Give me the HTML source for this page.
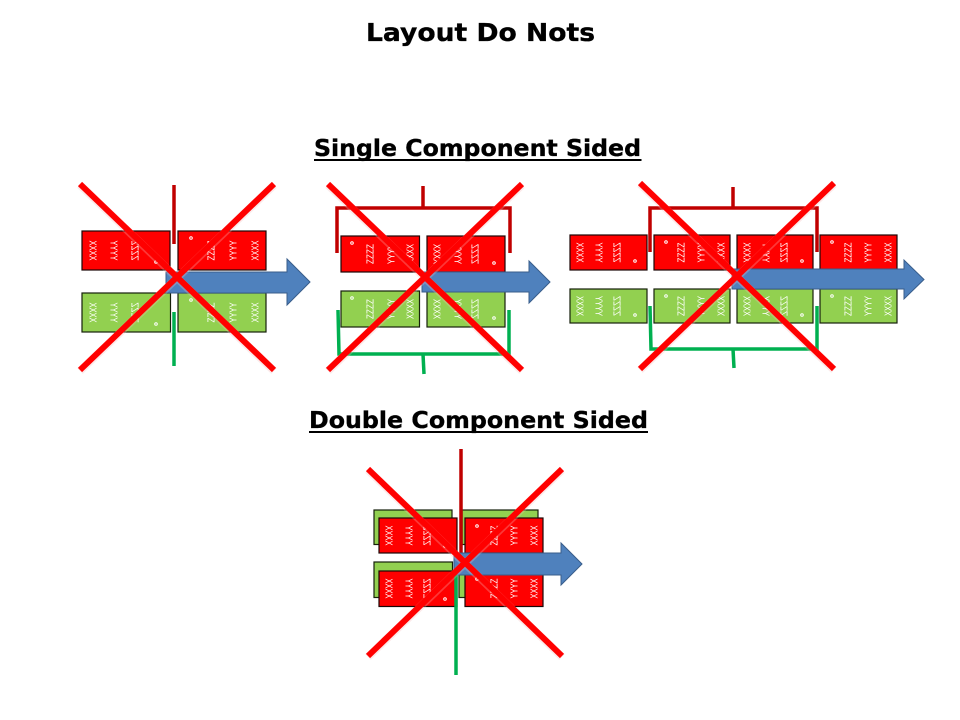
<!DOCTYPE html>
<html lang="en">
<head>
<meta charset="utf-8">
<title>Layout Do Nots</title>
<style>
html,body{margin:0;padding:0;background:#fff;width:960px;height:720px;overflow:hidden}
svg{display:block}
.h{font-family:"DejaVu Sans","Liberation Sans",sans-serif;font-weight:bold;fill:#000;stroke:#000;stroke-width:.35}
.t{font-family:"Liberation Sans",sans-serif;font-size:10px;fill:#fff;text-anchor:middle;dominant-baseline:central}
.r{fill:#f00;stroke:#1c0606;stroke-width:1.200}
.g{fill:#92d050;stroke:#16200a;stroke-width:1.200}
.a{fill:#4f81bd;stroke:#385d8a;stroke-width:1}
.c{fill:none;stroke:#f00;stroke-width:6}
.cs{fill:none;stroke:#f6b8b8;stroke-width:8;opacity:.3}
.o{fill:none;stroke:#fff;stroke-width:1}
.lr{fill:none;stroke:#c00000;stroke-width:3.500}
.lg{fill:none;stroke:#00b050;stroke-width:3.500}
</style>
</head>
<body>
<svg width="960" height="720" viewBox="0 0 960 720" xmlns="http://www.w3.org/2000/svg">
<text class="h" x="366" y="41" font-size="25" textLength="229" lengthAdjust="spacingAndGlyphs">Layout Do Nots</text>
<text class="h" x="314" y="156" font-size="23" textLength="327" lengthAdjust="spacingAndGlyphs">Single Component Sided</text>
<rect x="314" y="159" width="327.500" height="2" fill="#000"/>
<text class="h" x="309" y="428" font-size="23" textLength="339" lengthAdjust="spacingAndGlyphs">Double Component Sided</text>
<rect x="309" y="431" width="339" height="2" fill="#000"/>

<!-- Group 1 -->
<g transform="translate(82,231)"><rect class="r" width="88" height="39"/><text class="t" textLength="20" lengthAdjust="spacingAndGlyphs" transform="translate(10,19.500) rotate(90)">XXXX</text><text class="t" textLength="20" lengthAdjust="spacingAndGlyphs" transform="translate(31,19.500) rotate(90)">YYYY</text><text class="t" textLength="20" lengthAdjust="spacingAndGlyphs" transform="translate(54,19.500) rotate(90) scale(1,-1)">ZZZZ</text><circle class="o" cx="74" cy="31" r="1.300"/></g>
<g transform="translate(178,231)"><rect class="r" width="88" height="39"/><circle class="o" cx="13" cy="7" r="1.300"/><text class="t" textLength="20" lengthAdjust="spacingAndGlyphs" transform="translate(34,19.500) rotate(-90)">ZZZZ</text><text class="t" textLength="20" lengthAdjust="spacingAndGlyphs" transform="translate(56,19.500) rotate(-90)">YYYY</text><text class="t" textLength="20" lengthAdjust="spacingAndGlyphs" transform="translate(78,19.500) rotate(-90)">XXXX</text></g>
<g transform="translate(82,293)"><rect class="g" width="88.500" height="39"/><text class="t" textLength="20" lengthAdjust="spacingAndGlyphs" transform="translate(10,19.500) rotate(90)">XXXX</text><text class="t" textLength="20" lengthAdjust="spacingAndGlyphs" transform="translate(31,19.500) rotate(90)">YYYY</text><text class="t" textLength="20" lengthAdjust="spacingAndGlyphs" transform="translate(54,19.500) rotate(90) scale(1,-1)">ZZZZ</text><circle class="o" cx="74" cy="31" r="1.300"/></g>
<g transform="translate(178,293)"><rect class="g" width="88" height="39"/><circle class="o" cx="13" cy="7" r="1.300"/><text class="t" textLength="20" lengthAdjust="spacingAndGlyphs" transform="translate(34,19.500) rotate(-90)">ZZZZ</text><text class="t" textLength="20" lengthAdjust="spacingAndGlyphs" transform="translate(56,19.500) rotate(-90)">YYYY</text><text class="t" textLength="20" lengthAdjust="spacingAndGlyphs" transform="translate(78,19.500) rotate(-90)">XXXX</text></g>
<path class="a" d="M166 272H287V259L310 282L287 305V293H166Z"/>
<path class="lr" d="M174 185V244"/>
<path class="lg" d="M174 312V366"/>
<path class="cs" d="M80 185L274 371M274 185L80 371"/>
<path class="c" d="M80 184L274 370M274 184L80 370"/>

<!-- Group 2 -->
<g transform="translate(341,236)"><rect class="r" width="78.500" height="36"/><circle class="o" cx="11" cy="7" r="1.300"/><text class="t" textLength="20" lengthAdjust="spacingAndGlyphs" transform="translate(30,18) rotate(-90)">ZZZZ</text><text class="t" textLength="20" lengthAdjust="spacingAndGlyphs" transform="translate(51,18) rotate(-90)">YYYY</text><text class="t" textLength="20" lengthAdjust="spacingAndGlyphs" transform="translate(70,18) rotate(-90)">XXXX</text></g>
<g transform="translate(427,236)"><rect class="r" width="78" height="36"/><text class="t" textLength="20" lengthAdjust="spacingAndGlyphs" transform="translate(9,18) rotate(90)">XXXX</text><text class="t" textLength="20" lengthAdjust="spacingAndGlyphs" transform="translate(30,18) rotate(90)">YYYY</text><text class="t" textLength="20" lengthAdjust="spacingAndGlyphs" transform="translate(49,18) rotate(90) scale(1,-1)">ZZZZ</text><circle class="o" cx="67" cy="27" r="1.300"/></g>
<g transform="translate(341,291)"><rect class="g" width="78.500" height="36"/><circle class="o" cx="11" cy="7" r="1.300"/><text class="t" textLength="20" lengthAdjust="spacingAndGlyphs" transform="translate(30,18) rotate(-90)">ZZZZ</text><text class="t" textLength="20" lengthAdjust="spacingAndGlyphs" transform="translate(51,18) rotate(-90)">YYYY</text><text class="t" textLength="20" lengthAdjust="spacingAndGlyphs" transform="translate(70,18) rotate(-90)">XXXX</text></g>
<g transform="translate(427,291)"><rect class="g" width="78" height="36"/><text class="t" textLength="20" lengthAdjust="spacingAndGlyphs" transform="translate(9,18) rotate(90)">XXXX</text><text class="t" textLength="20" lengthAdjust="spacingAndGlyphs" transform="translate(30,18) rotate(90)">YYYY</text><text class="t" textLength="20" lengthAdjust="spacingAndGlyphs" transform="translate(49,18) rotate(90) scale(1,-1)">ZZZZ</text><circle class="o" cx="67" cy="27" r="1.300"/></g>
<path class="a" d="M422 272H529V261L550 282L529 303V292H422Z"/>
<path class="lr" d="M337 253V208H510V253M423 186V208"/>
<path class="lg" d="M338 310L339 354H509V310M423 354L424 374"/>
<path class="cs" d="M328 185L522 371M522 185L328 371"/>
<path class="c" d="M328 184L522 370M522 184L328 370"/>

<!-- Group 3 -->
<g transform="translate(570,235)"><rect class="r" width="77" height="35"/><text class="t" textLength="20" lengthAdjust="spacingAndGlyphs" transform="translate(9,17.500) rotate(90)">XXXX</text><text class="t" textLength="20" lengthAdjust="spacingAndGlyphs" transform="translate(28,17.500) rotate(90)">YYYY</text><text class="t" textLength="20" lengthAdjust="spacingAndGlyphs" transform="translate(48,17.500) rotate(90) scale(1,-1)">ZZZZ</text><circle class="o" cx="65" cy="26" r="1.300"/></g>
<g transform="translate(654,235)"><rect class="r" width="76" height="35"/><circle class="o" cx="12" cy="7" r="1.300"/><text class="t" textLength="20" lengthAdjust="spacingAndGlyphs" transform="translate(28,17.500) rotate(-90)">ZZZZ</text><text class="t" textLength="20" lengthAdjust="spacingAndGlyphs" transform="translate(48,17.500) rotate(-90)">YYYY</text><text class="t" textLength="20" lengthAdjust="spacingAndGlyphs" transform="translate(68,17.500) rotate(-90)">XXXX</text></g>
<g transform="translate(737,235)"><rect class="r" width="76" height="35"/><text class="t" textLength="20" lengthAdjust="spacingAndGlyphs" transform="translate(9,17.500) rotate(90)">XXXX</text><text class="t" textLength="20" lengthAdjust="spacingAndGlyphs" transform="translate(28,17.500) rotate(90)">YYYY</text><text class="t" textLength="20" lengthAdjust="spacingAndGlyphs" transform="translate(48,17.500) rotate(90) scale(1,-1)">ZZZZ</text><circle class="o" cx="65" cy="26" r="1.300"/></g>
<g transform="translate(820,235)"><rect class="r" width="77" height="35"/><circle class="o" cx="12" cy="7" r="1.300"/><text class="t" textLength="20" lengthAdjust="spacingAndGlyphs" transform="translate(29,17.500) rotate(-90)">ZZZZ</text><text class="t" textLength="20" lengthAdjust="spacingAndGlyphs" transform="translate(49,17.500) rotate(-90)">YYYY</text><text class="t" textLength="20" lengthAdjust="spacingAndGlyphs" transform="translate(69,17.500) rotate(-90)">XXXX</text></g>
<g transform="translate(570,289)"><rect class="g" width="77" height="34"/><text class="t" textLength="20" lengthAdjust="spacingAndGlyphs" transform="translate(9,17) rotate(90)">XXXX</text><text class="t" textLength="20" lengthAdjust="spacingAndGlyphs" transform="translate(28,17) rotate(90)">YYYY</text><text class="t" textLength="20" lengthAdjust="spacingAndGlyphs" transform="translate(48,17) rotate(90) scale(1,-1)">ZZZZ</text><circle class="o" cx="65" cy="26" r="1.300"/></g>
<g transform="translate(654,289)"><rect class="g" width="76" height="34"/><circle class="o" cx="12" cy="7" r="1.300"/><text class="t" textLength="20" lengthAdjust="spacingAndGlyphs" transform="translate(28,17) rotate(-90)">ZZZZ</text><text class="t" textLength="20" lengthAdjust="spacingAndGlyphs" transform="translate(48,17) rotate(-90)">YYYY</text><text class="t" textLength="20" lengthAdjust="spacingAndGlyphs" transform="translate(68,17) rotate(-90)">XXXX</text></g>
<g transform="translate(737,289)"><rect class="g" width="76" height="34"/><text class="t" textLength="20" lengthAdjust="spacingAndGlyphs" transform="translate(9,17) rotate(90)">XXXX</text><text class="t" textLength="20" lengthAdjust="spacingAndGlyphs" transform="translate(28,17) rotate(90)">YYYY</text><text class="t" textLength="20" lengthAdjust="spacingAndGlyphs" transform="translate(48,17) rotate(90) scale(1,-1)">ZZZZ</text><circle class="o" cx="65" cy="26" r="1.300"/></g>
<g transform="translate(820,289)"><rect class="g" width="77" height="34"/><circle class="o" cx="12" cy="7" r="1.300"/><text class="t" textLength="20" lengthAdjust="spacingAndGlyphs" transform="translate(29,17) rotate(-90)">ZZZZ</text><text class="t" textLength="20" lengthAdjust="spacingAndGlyphs" transform="translate(49,17) rotate(-90)">YYYY</text><text class="t" textLength="20" lengthAdjust="spacingAndGlyphs" transform="translate(69,17) rotate(-90)">XXXX</text></g>
<path class="a" d="M732 269H904V260L924 279.500L904 299V289H732Z"/>
<path class="lr" d="M650 252V208H817V252M733 187V208"/>
<path class="lg" d="M650 306L651 349H817V306M733 349L734 368"/>
<path class="cs" d="M640 184L834 370M834 184L640 370"/>
<path class="c" d="M640 183L834 369M834 183L640 369"/>

<!-- Group 4 -->
<rect class="g" x="374" y="510" width="78" height="34.500"/>
<rect class="g" x="462" y="510" width="76" height="34.500"/>
<rect class="g" x="374" y="562" width="78.500" height="35.500"/>
<rect class="g" x="459" y="562" width="73" height="35.500"/>
<g transform="translate(379,518)"><rect class="r" width="78" height="35"/><text class="t" textLength="20" lengthAdjust="spacingAndGlyphs" transform="translate(9,17.500) rotate(90)">XXXX</text><text class="t" textLength="20" lengthAdjust="spacingAndGlyphs" transform="translate(29,17.500) rotate(90)">YYYY</text><text class="t" textLength="20" lengthAdjust="spacingAndGlyphs" transform="translate(49,17.500) rotate(90) scale(1,-1)">ZZZZ</text><circle class="o" cx="66" cy="28" r="1.300"/></g>
<g transform="translate(465,518)"><rect class="r" width="78" height="35"/><circle class="o" cx="12" cy="8" r="1.300"/><text class="t" textLength="20" lengthAdjust="spacingAndGlyphs" transform="translate(30,17.500) rotate(-90)">ZZZZ</text><text class="t" textLength="20" lengthAdjust="spacingAndGlyphs" transform="translate(50,17.500) rotate(-90)">YYYY</text><text class="t" textLength="20" lengthAdjust="spacingAndGlyphs" transform="translate(70,17.500) rotate(-90)">XXXX</text></g>
<g transform="translate(379,571)"><rect class="r" width="78" height="35.500"/><text class="t" textLength="20" lengthAdjust="spacingAndGlyphs" transform="translate(9,17.500) rotate(90)">XXXX</text><text class="t" textLength="20" lengthAdjust="spacingAndGlyphs" transform="translate(29,17.500) rotate(90)">YYYY</text><text class="t" textLength="20" lengthAdjust="spacingAndGlyphs" transform="translate(49,17.500) rotate(90) scale(1,-1)">ZZZZ</text><circle class="o" cx="66" cy="28" r="1.300"/></g>
<g transform="translate(465,571)"><rect class="r" width="78" height="35.500"/><circle class="o" cx="12" cy="8" r="1.300"/><text class="t" textLength="20" lengthAdjust="spacingAndGlyphs" transform="translate(30,17.500) rotate(-90)">ZZZZ</text><text class="t" textLength="20" lengthAdjust="spacingAndGlyphs" transform="translate(50,17.500) rotate(-90)">YYYY</text><text class="t" textLength="20" lengthAdjust="spacingAndGlyphs" transform="translate(70,17.500) rotate(-90)">XXXX</text></g>
<path class="lr" d="M461 449V553"/>
<path class="a" d="M454 553H561V543L582 564L561 585V575H454Z"/>
<path class="lg" d="M456 575V675"/>
<path class="cs" d="M368 470L562 657M562 470L368 657"/>
<path class="c" d="M368 469L562 656M562 469L368 656"/>
</svg>
</body>
</html>
